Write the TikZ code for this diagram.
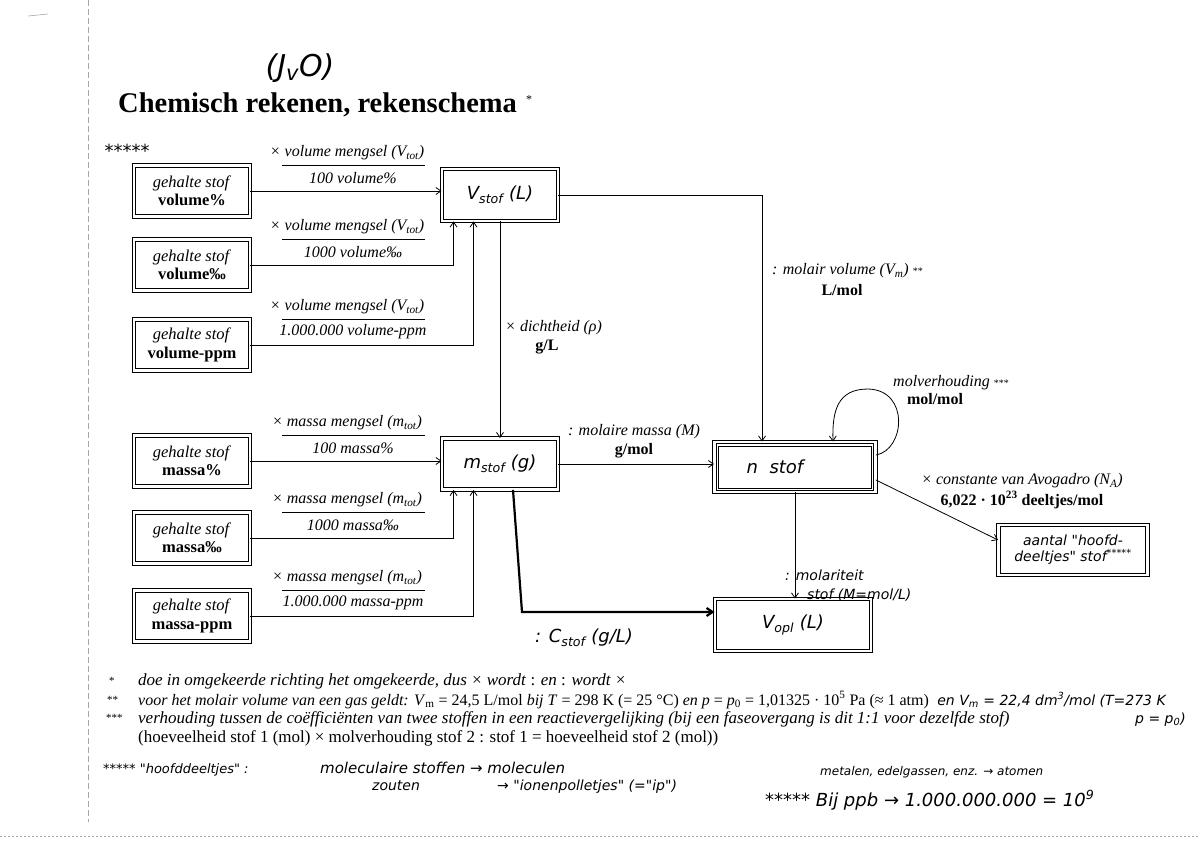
\documentclass[tikz,border=0pt]{standalone}
\usepackage{fontspec}
\setmainfont{Liberation Serif}
\newfontfamily\handfont{DejaVu Sans}
\usetikzlibrary{arrows.meta,calc}
\begin{document}
\begin{tikzpicture}[x=1pt,y=-1pt,
  every node/.style={font=\fontsize{16}{18}\selectfont, inner sep=0pt},
  box/.style={draw, double, double distance=2.4pt, line width=0.9pt, minimum width=116pt, minimum height=51pt, align=center, font=\fontsize{16.5}{18.5}\selectfont},
  hand/.style={font=\handfont\itshape\fontsize{14}{16}\selectfont},
  handbig/.style={font=\handfont\itshape\fontsize{18}{20}\selectfont},
  arr/.style={-{Straight Barb[length=5pt,width=7pt]}, line width=0.8pt},
  fracline/.style={line width=0.8pt},
  lbl/.style={font=\itshape\fontsize{16}{18}\selectfont},
  unit/.style={font=\bfseries\fontsize{16}{18}\selectfont},
  foot/.style={anchor=base west, font=\fontsize{17}{19}\selectfont},
  fnmark/.style={anchor=base west, font=\fontsize{11}{12}\selectfont},
  scan/.style={gray!70, line width=0.6pt, dash pattern=on 6pt off 3pt},
]
\useasboundingbox (0,0) rectangle (1200,849);

% scan edges
\draw[scan] (88,0) -- (88,822);
\draw[scan, dash pattern=on 2pt off 2pt] (0,836) -- (1200,836);
\draw[gray!70, line width=0.6pt] (28,16) -- (48,14);

% title
\node[font=\handfont\itshape\fontsize{30}{32}\selectfont] (jvo) at (300,68) {(J\textsubscript{v}O)};
\node[anchor=base west, font=\bfseries\fontsize{28.5}{31}\selectfont] (title) at (118,112) {Chemisch rekenen, rekenschema};
\node[font=\fontsize{12}{13}\selectfont] (tstar) at (529,100) {*};
\node[hand, font=\handfont\itshape\fontsize{18}{20}\selectfont] (stars5) at (127,151) {*****};

% left boxes
\node[box] (b1) at (192,191) {\textit{gehalte stof}\\\textbf{volume\%}};
\node[box] (b2) at (192,265) {\textit{gehalte stof}\\\textbf{volume‰}};
\node[box] (b3) at (192,345) {\textit{gehalte stof}\\\textbf{volume-ppm}};
\node[box] (b4) at (192,461) {\textit{gehalte stof}\\\textbf{massa\%}};
\node[box] (b5) at (192,538) {\textit{gehalte stof}\\\textbf{massa‰}};
\node[box] (b6) at (192,616) {\textit{gehalte stof}\\\textbf{massa-ppm}};

% central boxes
\node[box, handbig, minimum width=116pt, minimum height=52pt] (vs) at (500,195) {V\textsubscript{stof} (L)};
\node[box, handbig, minimum width=116pt, minimum height=51pt] (m) at (500,464) {m\textsubscript{stof} (g)};
\node[box, handbig, minimum width=161pt, minimum height=50pt] (n) at (795,467) {n\ \ stof\hspace{40pt}};
\draw[line width=0.7pt] ([shift={(4.5pt,-4.5pt)}]n.north west) rectangle ([shift={(-4.5pt,4.5pt)}]n.south east);
\node[box, handbig, minimum width=156pt, minimum height=52pt] (vopl) at (793,625) {V\textsubscript{opl} (L)};
\node[box, hand, minimum width=149pt, minimum height=50pt] (aantal) at (1073,550) {aantal "hoofd-\\deeltjes" stof\textsuperscript{*****}};

% fraction labels (volume)
\foreach \a/\den in {191/{100 volume\%},265/{1000 volume‰},345/{1.000.000 volume-ppm}}{
  \node[lbl] at (347,\a-38) {× volume mengsel (\textit{V}\textsubscript{tot})};
  \draw[fracline] (282,\a-26) -- (425,\a-26);
  \node[lbl] at (353,\a-13) {\den};
}
\foreach \a/\den in {461/{100 massa\%},538/{1000 massa‰},616/{1.000.000 massa-ppm}}{
  \node[lbl] at (347,\a-38) {× massa mengsel (\textit{m}\textsubscript{tot})};
  \draw[fracline] (282,\a-26) -- (425,\a-26);
  \node[lbl] at (353,\a-13) {\den};
}

% arrows from left boxes
\draw[arr] (b1.east) -- (b1.east -| vs.west);
\draw[arr] (b2.east) -| ([xshift=12pt]vs.south west);
\draw[arr] (b3.east) -| ([xshift=32pt]vs.south west);
\draw[arr] (b4.east) -- (b4.east -| m.west);
\draw[arr] (b5.east) -| ([xshift=12pt]m.south west);
\draw[arr] (b6.east) -| ([xshift=32pt]m.south west);

% V -> m
\draw[arr] (vs.south) -- (m.north);
\node[lbl, anchor=west] at (505,328) {× dichtheid (\textit{ρ})};
\node[unit] at (547,347) {g/L};

% V -> n
\draw[arr] (vs.east) -| ([xshift=48pt]n.north west);
\node[lbl, anchor=west] at (772,271) {: molair volume (\textit{V}\textsubscript{m}) {\upshape\fontsize{10}{11}\selectfont **}};
\node[unit] at (842,290) {L/mol};

% m -> n
\draw[arr] (m.east) -- (m.east -| n.west);
\node[lbl] at (634,432) {: molaire massa (\textit{M})};
\node[unit] at (634,451) {g/mol};

% loop on n
\draw[arr] ([yshift=12pt]n.east) .. controls (905,450) and (910,390) .. (868,389) .. controls (838,389) and (832,410) .. ([xshift=38pt]n.north);
\node[lbl, anchor=west] at (893,383) {molverhouding {\upshape\fontsize{10}{11}\selectfont ***}};
\node[unit] at (935,399) {mol/mol};

% n -> aantal
\draw[arr] ([yshift=-13pt]n.east) -- ([yshift=10pt]aantal.west);
\node[lbl] at (1022,481) {× constante van Avogadro (\textit{N}\textsubscript{A})};
\node[unit] at (1022,500) {6,022 · 10\textsuperscript{23} deeltjes/mol};

% n -> vopl
\draw[arr] (n.south) -- (n.south |- vopl.north);
\node[hand, anchor=west] at (785,575) {: molariteit};
\node[hand, anchor=west] at (807,595) {stof (M=mol/L)};

% m -> vopl thick
\coordinate (c1) at (522,612);
\draw[-{Straight Barb[length=6pt,width=8pt]}, line width=2.2pt] ([xshift=13pt]m.south) -- (c1) -- (c1 -| vopl.west);
\node[handbig, anchor=west] at (535,638) {: C\textsubscript{stof} (g/L)};

% footnotes
\node[fnmark] at (109,684) {*};
\node[fnmark] at (107,703) {**};
\node[fnmark] at (106,721) {***};
\node[foot] (f1) at (138,685) {\textit{doe in omgekeerde richting het omgekeerde, dus × wordt} : \textit{en} : \textit{wordt ×}};
\node[foot, font=\fontsize{16}{18}\selectfont] (f2) at (138,705) {\textit{voor het molair volume van een gas geldt: V}\textsubscript{m} = 24,5 L/mol \textit{bij T} = 298 K (= 25 °C) \textit{en p} = \textit{p}\textsubscript{0} = 1,01325 · 10\textsuperscript{5} Pa (≈ 1 atm)};
\node[foot] (f3) at (138,723) {\textit{verhouding tussen de coëfficiënten van twee stoffen in een reactievergelijking (bij een faseovergang is dit 1:1 voor dezelfde stof)}};
\node[foot] (f4) at (138,742) {(hoeveelheid stof 1 (mol) × molverhouding stof 2 : stof 1 = hoeveelheid stof 2 (mol))};
\node[hand, anchor=base west] (f2h) at ([xshift=8pt]f2.base east) {en V\textsubscript{m} = 22,4 dm\textsuperscript{3}/mol (T=273 K};
\node[hand, anchor=base west] at (1135,723) {p = p\textsubscript{0})};

% handwritten notes
\node[hand, anchor=base west, font=\handfont\itshape\fontsize{13}{15}\selectfont] at (103,773) {***** "hoofddeeltjes" :};
\node[hand, anchor=base west, font=\handfont\itshape\fontsize{15}{17}\selectfont] at (320,773) {moleculaire stoffen → moleculen};
\node[hand, anchor=base west] at (372,790) {zouten};
\node[hand, anchor=base west] at (497,790) {→ "ionenpolletjes" (="ip")};
\node[hand, anchor=base west, font=\handfont\itshape\fontsize{12}{14}\selectfont] at (820,775) {metalen, edelgassen, enz. → atomen};
\node[hand, anchor=base west, font=\handfont\itshape\fontsize{18}{20}\selectfont] at (765,806) {***** Bij ppb → 1.000.000.000 = 10\textsuperscript{9}};
\end{tikzpicture}
\end{document}
